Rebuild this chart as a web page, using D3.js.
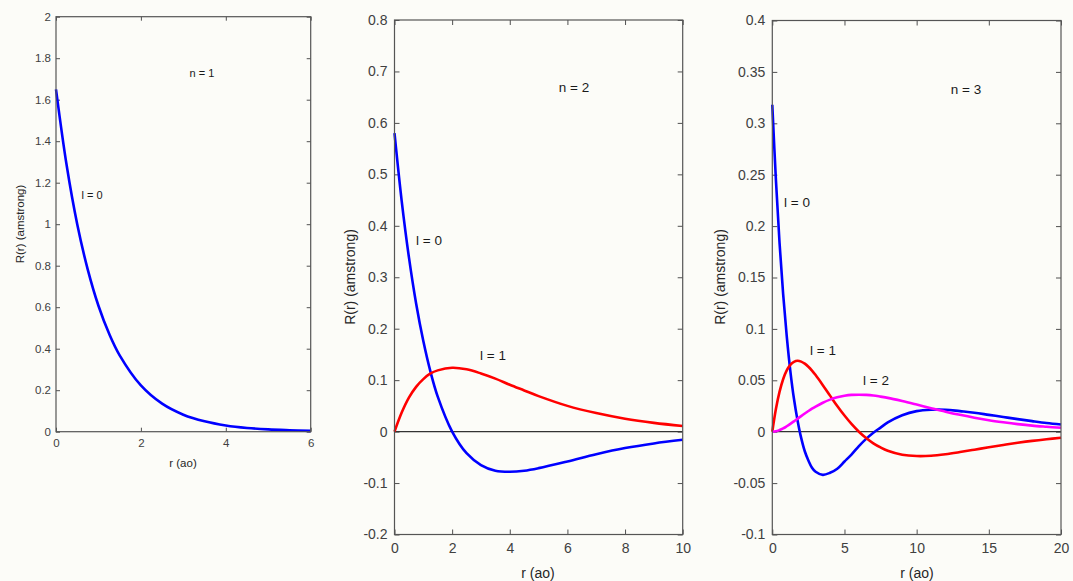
<!doctype html>
<html lang="en">
<head>
<meta charset="utf-8">
<title>Radial wave functions n = 1, 2, 3</title>
<style>
html, body {
	margin: 0;
	padding: 0;
	width: 100%;
	height: 100%;
	overflow: hidden;
	background: #fcfcf8;
	font-family: 'Liberation Sans', Arial, sans-serif;
}
svg { display: block; }
.tick text { fill: #404040; }
.axis path.domain { display: none; }
.axis .tick line { stroke: #505050; stroke-width: 1; }
.box { fill: none; stroke: #555; stroke-width: 1.2; }
.zero { stroke: #333; stroke-width: 1.3; }
.curve { fill: none; stroke-width: 2.6; stroke-linejoin: round; }
.lbl { fill: #262626; }
.note { fill: #1a1a1a; }
</style>
</head>
<body>
<div id="chart"></div>
<script src="https://cdnjs.cloudflare.com/ajax/libs/d3/7.8.5/d3.min.js"></script>
<script>
// values (r in units of a0)
var r1 = [0, 0.25, 0.5, 0.75, 1, 1.25, 1.5, 2, 2.5, 3, 3.5, 4, 4.5, 5, 5.5, 6];
var n1l0 = [1.65, 1.285, 1.0, 0.78, 0.607, 0.473, 0.368, 0.223, 0.135, 0.082, 0.05, 0.03, 0.018, 0.011, 0.007, 0.004];

var r2 = [0, 0.25, 0.5, 0.75, 1, 1.25, 1.5, 2, 2.5, 3, 3.5, 4, 4.5, 5, 6, 7, 8, 9, 10];
var n2l0 = [0.58, 0.448, 0.339, 0.249, 0.176, 0.116, 0.068, 0, -0.042, -0.065, -0.076, -0.078, -0.076, -0.071, -0.058, -0.044, -0.032, -0.023, -0.016];
var n2l1 = [0, 0.037, 0.066, 0.087, 0.102, 0.113, 0.119, 0.124, 0.121, 0.113, 0.103, 0.091, 0.080, 0.069, 0.050, 0.036, 0.025, 0.017, 0.011];

var r3 = [0, 0.25, 0.5, 0.75, 1, 1.25, 1.5, 1.75, 2, 2.25, 2.5, 2.75, 3, 3.5, 4, 4.5, 5, 5.5, 6, 6.5, 7, 7.5, 8, 9, 10, 11, 12, 13, 14, 15, 16, 17, 18, 19, 20];
var n3l0 = [0.318, 0.245, 0.184, 0.134, 0.093, 0.059, 0.032, 0.011, -0.006, -0.019, -0.028, -0.035, -0.039, -0.042, -0.040, -0.036, -0.029, -0.022, -0.014, -0.007, -0.001, 0.004, 0.009, 0.016, 0.020, 0.0214, 0.0214, 0.020, 0.0185, 0.0164, 0.0143, 0.0122, 0.0103, 0.0085, 0.007];
var n3l1 = [0, 0.022, 0.0387, 0.051, 0.0596, 0.065, 0.068, 0.069, 0.0682, 0.0662, 0.0632, 0.0595, 0.0551, 0.0453, 0.0351, 0.025, 0.0157, 0.0073, 0, -0.0062, -0.0113, -0.0153, -0.0185, -0.0224, -0.0237, -0.0234, -0.0219, -0.0198, -0.0175, -0.0151, -0.0129, -0.0108, -0.0089, -0.0073, -0.0059];
var n3l2 = [0, 0.0004, 0.0016, 0.0032, 0.0053, 0.0076, 0.0101, 0.0126, 0.0152, 0.0177, 0.0201, 0.0224, 0.0245, 0.0282, 0.0312, 0.0334, 0.0349, 0.0358, 0.036, 0.0358, 0.0352, 0.0341, 0.0329, 0.0298, 0.0264, 0.0229, 0.0195, 0.0164, 0.0136, 0.0112, 0.0092, 0.0074, 0.0059, 0.0048, 0.0038];

var xTicks1 = [0, 2, 4, 6];
var yTicks1 = [0, 0.2, 0.4, 0.6, 0.8, 1, 1.2, 1.4, 1.6, 1.8, 2];
var xTicks2 = [0, 2, 4, 6, 8, 10];
var yTicks2 = [-0.2, -0.1, 0, 0.1, 0.2, 0.3, 0.4, 0.5, 0.6, 0.7, 0.8];
var xTicks3 = [0, 5, 10, 15, 20];
var yTicks3 = [-0.1, -0.05, 0, 0.05, 0.1, 0.15, 0.2, 0.25, 0.3, 0.35, 0.4];

var BLUE = '#0000ff', RED = '#ff0000', MAGENTA = '#ff00ff';

// panel boxes and text placement (pixels)
var panels = [
	{
		x: [56, 310.7], y: [431.7, 16.7], xDom: [0, 6], yDom: [0, 2],
		xTicks: xTicks1, yTicks: yTicks1, font: 11.5, tick: 4, zero: false,
		yLab: [20, 224], xLab: [183, 463],
		series: [{ r: r1, v: n1l0, c: BLUE }],
		notes: [{ t: 'n = 1', x: 202, y: 73 }, { t: 'l = 0', x: 92, y: 195 }]
	},
	{
		x: [394.5, 682.7], y: [534.5, 20], xDom: [0, 10], yDom: [-0.2, 0.8],
		xTicks: xTicks2, yTicks: yTicks2, font: 14, tick: 5, zero: true,
		yLab: [350, 277], xLab: [538, 573],
		series: [{ r: r2, v: n2l0, c: BLUE }, { r: r2, v: n2l1, c: RED }],
		notes: [{ t: 'n = 2', x: 574, y: 87 }, { t: 'l = 0', x: 429, y: 240 }, { t: 'l = 1', x: 493, y: 355 }]
	},
	{
		x: [772.3, 1061], y: [534.5, 20.5], xDom: [0, 20], yDom: [-0.1, 0.4],
		xTicks: xTicks3, yTicks: yTicks3, font: 14, tick: 5, zero: true,
		yLab: [720, 277], xLab: [917, 573],
		series: [{ r: r3, v: n3l0, c: BLUE }, { r: r3, v: n3l1, c: RED }, { r: r3, v: n3l2, c: MAGENTA }],
		notes: [{ t: 'n = 3', x: 966, y: 89 }, { t: 'l = 0', x: 797, y: 202 }, { t: 'l = 1', x: 823, y: 350 }, { t: 'l = 2', x: 876, y: 380 }]
	}
];

var fmt = function (d) { return String(+d.toFixed(3)); };

var svg = d3.select('#chart').append('svg')
	.attr('width', 1073)
	.attr('height', 581);

panels.forEach(function (p) {
	var x = d3.scaleLinear().domain(p.xDom).range(p.x);
	var y = d3.scaleLinear().domain(p.yDom).range(p.y);
	var g = svg.append('g');
	var w = p.x[1] - p.x[0], h = p.y[0] - p.y[1];

	// axes, ticks pointing inward
	g.append('g').attr('class', 'axis')
		.attr('transform', 'translate(' + p.x[0] + ',0)')
		.call(d3.axisLeft(y).tickValues(p.yTicks).tickFormat(fmt).tickSize(-p.tick).tickSizeOuter(0).tickPadding(p.tick === 4 ? 5 : 7));
	g.append('g').attr('class', 'axis')
		.attr('transform', 'translate(' + p.x[1] + ',0)')
		.call(d3.axisRight(y).tickValues(p.yTicks).tickFormat('').tickSize(-p.tick).tickSizeOuter(0));
	g.append('g').attr('class', 'axis')
		.attr('transform', 'translate(0,' + p.y[0] + ')')
		.call(d3.axisBottom(x).tickValues(p.xTicks).tickFormat(fmt).tickSize(-p.tick).tickSizeOuter(0).tickPadding(p.tick === 4 ? 7 : 9));
	g.append('g').attr('class', 'axis')
		.attr('transform', 'translate(0,' + p.y[1] + ')')
		.call(d3.axisTop(x).tickValues(p.xTicks).tickFormat('').tickSize(-p.tick).tickSizeOuter(0));

	g.selectAll('.axis text')
		.style('font-size', p.font + 'px')
		.style('font-family', "'Liberation Sans', Arial, sans-serif");

	if (p.zero) {
		g.append('line').attr('class', 'zero')
			.attr('x1', x(p.xDom[0])).attr('x2', x(p.xDom[1]))
			.attr('y1', y(0)).attr('y2', y(0));
	}

	var line = d3.line()
		.x(function (d) { return x(d[0]); })
		.y(function (d) { return y(d[1]); })
		.curve(d3.curveCatmullRom.alpha(0.5));

	p.series.forEach(function (s) {
		g.append('path').attr('class', 'curve')
			.attr('stroke', s.c)
			.attr('d', line(d3.zip(s.r, s.v)));
	});

	g.append('rect').attr('class', 'box')
		.attr('x', p.x[0]).attr('y', p.y[1])
		.attr('width', w).attr('height', h);

	g.append('text').attr('class', 'lbl')
		.attr('transform', 'translate(' + p.yLab[0] + ',' + p.yLab[1] + ') rotate(-90)')
		.attr('text-anchor', 'middle')
		.attr('dy', '0.35em')
		.style('font-size', p.font + 'px')
		.text('R(r) (amstrong)');

	g.append('text').attr('class', 'lbl')
		.attr('x', p.xLab[0]).attr('y', p.xLab[1])
		.attr('text-anchor', 'middle')
		.attr('dy', '0.35em')
		.style('font-size', p.font + 'px')
		.text('r (ao)');

	g.selectAll('text.note').data(p.notes).enter()
		.append('text').attr('class', 'note')
		.attr('x', function (d) { return d.x; })
		.attr('y', function (d) { return d.y; })
		.attr('text-anchor', 'middle')
		.attr('dy', '0.35em')
		.style('font-size', (p.font - 0.5) + 'px')
		.text(function (d) { return d.t; });
});
</script>
</body>
</html>
